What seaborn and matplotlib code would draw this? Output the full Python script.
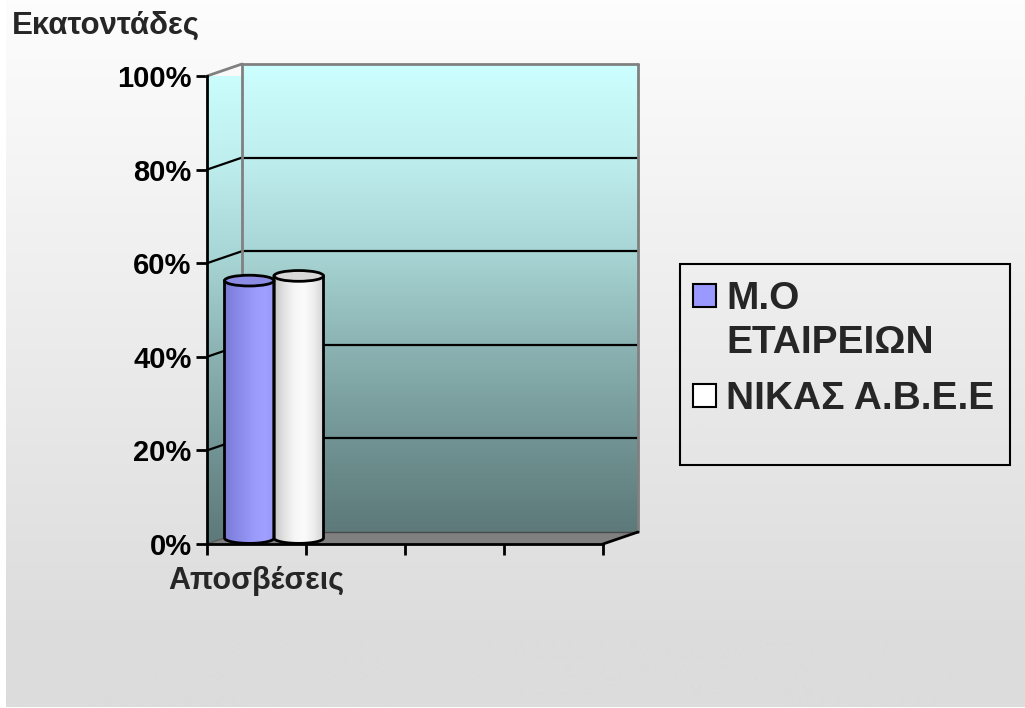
import numpy as np
import pandas as pd
import matplotlib
matplotlib.use("Agg")
import matplotlib.pyplot as plt
import seaborn as sns
from matplotlib.patches import Polygon, Rectangle, PathPatch, Ellipse
from matplotlib.path import Path
from matplotlib.colors import LinearSegmentedColormap

# ---- data -------------------------------------------------------------
categories = ["Αποσβέσεις"]
slot_labels = ["Αποσβέσεις", "", "", ""]
series = ["Μ.Ο\nΕΤΑΙΡΕΙΩΝ", "ΝΙΚΑΣ Α.Β.Ε.Ε"]
values_mo = [55]
values_nikas = [56]
y_ticks = [0, 20, 40, 60, 80, 100]
y_tick_labels = ["0%", "20%", "40%", "60%", "80%", "100%"]
title = "Εκατοντάδες"

series_colors = ["#9999ff", "#ffffff"]

# ---- style --------------------------------------------------------------
sns.set_style("white")
plt.rcParams["font.family"] = ["Liberation Sans", "DejaVu Sans"]
plt.rcParams["font.weight"] = "bold"

W, H, DPI = 1025, 708, 100
fig = plt.figure(figsize=(W / DPI, H / DPI), dpi=DPI, facecolor="white")

# soft grey page gradient
bg = fig.add_axes([6 / W, 1 / H, 1 - 6 / W, 1 - 1 / H], zorder=-10)
bg.axis("off")
rows = np.clip(np.arange(H) / 640.0, 0, 1)[:, None]
page_cmap = LinearSegmentedColormap.from_list("page", ["#fdfdfd", "#dcdcdc"])
bg.imshow(rows, cmap=page_cmap, aspect="auto", extent=[0, 1, 0, 1],
          origin="upper", vmin=0, vmax=1, interpolation="bilinear")

# ---- main axes ---------------------------------------------------------
n_slots = len(slot_labels)
ax = fig.add_axes([207 / W, (H - 544) / H, 396 / W, 468 / H])
ax.patch.set_visible(False)

df = pd.DataFrame({
    "category": categories * 2,
    "series": [series[0]] * len(categories) + [series[1]] * len(categories),
    "value": values_mo + values_nikas,
})
sns.barplot(data=df, x="category", y="value", hue="series", hue_order=series,
            palette=series_colors, width=1.0, errorbar=None, legend=False,
            ax=ax, zorder=2, linewidth=0)
bars = list(ax.patches)

x_lo, x_hi = -0.5, n_slots - 0.5
ax.set_xlim(x_lo, x_hi)
ax.set_ylim(0, 100)
ax.set_autoscale_on(False)

# depth of the 3-D box, in data units
DX = 35.0 / (396.0 / n_slots)
DY = 12.0 / (468.0 / 100.0)

wall_cmap = LinearSegmentedColormap.from_list(
    "wall", [(0.0, "#5d7979"), (0.2, "#729494"), (0.4, "#8cb3b3"),
             (0.6, "#a8d5d5"), (0.8, "#bfeeee"), (1.0, "#ccffff")])
grad_v = np.linspace(0, 1, 256)[:, None]

# back wall
ax.imshow(grad_v, cmap=wall_cmap, origin="lower", aspect="auto",
          extent=[x_lo + DX, x_hi + DX, DY, 100 + DY], zorder=0.5,
          clip_on=False, interpolation="bilinear")
# side wall
side = Polygon([(x_lo, 0), (x_lo, 100), (x_lo + DX, 100 + DY), (x_lo + DX, DY)],
               closed=True, transform=ax.transData, facecolor="none",
               edgecolor="none")
ax.add_patch(side)
im_side = ax.imshow(grad_v, cmap=wall_cmap, origin="lower", aspect="auto",
                    extent=[x_lo, x_lo + DX, 0, 100 + DY], zorder=0.5,
                    interpolation="bilinear")
im_side.set_clip_path(side)
# floor
ax.add_patch(Polygon([(x_lo, 0), (x_hi, 0), (x_hi + DX, DY), (x_lo + DX, DY)],
                     closed=True, facecolor="#808080", edgecolor="none",
                     zorder=0.6, clip_on=False))
ax.plot([x_lo + DX, x_hi + DX], [DY, DY], color="#4a4a4a", lw=1, zorder=0.7,
        clip_on=False)
ax.plot([x_lo, x_lo + DX], [0, DY], color="#5a5a5a", lw=1, zorder=0.7,
        clip_on=False)

# gridlines on back and side walls
for v in y_ticks[1:-1]:
    ax.plot([x_lo + DX, x_hi + DX], [v + DY, v + DY], color="black", lw=1.6,
            zorder=0.8, clip_on=False, solid_capstyle="butt")
    ax.plot([x_lo, x_lo + DX], [v, v + DY], color="black", lw=1.6,
            zorder=0.8, clip_on=False)

# wall borders
edge = dict(color="#808080", lw=2, zorder=0.9, clip_on=False)
ax.plot([x_lo + DX, x_hi + DX], [100 + DY, 100 + DY], **edge)
ax.plot([x_hi + DX, x_hi + DX], [DY, 100 + DY], **edge)
ax.plot([x_lo + DX, x_lo + DX], [DY, 100 + DY], **edge)
ax.plot([x_lo, x_lo + DX], [100, 100 + DY], **edge)
ax.plot([x_hi, x_hi + DX], [0, DY], color="black", lw=2, zorder=3,
        clip_on=False)

# ---- cylinders ---------------------------------------------------------
body_cmaps = [
    LinearSegmentedColormap.from_list(
        "c0", ["#7a7ad6", "#8686e4", "#9090f0", "#9b9bfc", "#a0a0ff", "#9696f6"]),
    LinearSegmentedColormap.from_list(
        "c1", ["#c4c4c4", "#e2e2e2", "#f6f6f6", "#fbfbfb", "#eeeeee", "#d2d2d2"]),
]
top_colors = ["#8c8ce4", "#d8d8d8"]
EH = 2.3           # ellipse height in data units
grad_h = np.linspace(0, 1, 256)[None, :]

for i, p in enumerate(bars):
    x0, w, h = p.get_x(), p.get_width(), p.get_height()
    x0 = x0 + DX / 2
    yb = DY / 2
    p.set_x(x0)
    p.set_y(yb)
    p.set_zorder(2)
    x1 = x0 + w
    cx, a, b = x0 + w / 2, w / 2, EH / 2
    yt = yb + h
    t = np.linspace(np.pi, 2 * np.pi, 60)
    arc = np.column_stack([cx + a * np.cos(t), yb + b * np.sin(t)])
    verts = np.vstack([[x0, yt], [x0, yb], arc, [x1, yb], [x1, yt], [x0, yt]])
    body = PathPatch(Path(verts, closed=True), facecolor="none",
                     edgecolor="none", transform=ax.transData)
    ax.add_patch(body)
    im = ax.imshow(grad_h, cmap=body_cmaps[i], aspect="auto",
                   extent=[x0, x1, yb - b, yt], zorder=2.1,
                   interpolation="bilinear")
    im.set_clip_path(body)
    outline = np.vstack([[x0, yt], [x0, yb], arc, [x1, yb], [x1, yt]])
    ax.plot(outline[:, 0], outline[:, 1], color="black", lw=2, zorder=2.4,
            clip_on=False, solid_joinstyle="round")
    ax.add_patch(Ellipse((cx, yt), 2 * a, EH, facecolor=top_colors[i],
                         edgecolor="black", lw=2, zorder=2.5, clip_on=False))

# ---- axes decoration ---------------------------------------------------
for s in ["top", "right"]:
    ax.spines[s].set_visible(False)
for s in ["left", "bottom"]:
    ax.spines[s].set_linewidth(2)
    ax.spines[s].set_color("black")
    ax.spines[s].set_zorder(3)

ax.set_yticks(y_ticks)
ax.set_yticklabels(y_tick_labels, fontsize=21, fontweight="bold")
ax.tick_params(axis="y", length=8, width=2, direction="out", pad=3,
               colors="black", left=True)

ax.set_xticks(np.arange(n_slots + 1) - 0.5)
ax.set_xticklabels([""] * (n_slots + 1))
ax.set_xticks(np.arange(n_slots), minor=True)
ax.set_xticklabels(slot_labels, minor=True, fontsize=22, fontweight="bold")
ax.tick_params(axis="x", which="major", length=8, width=2, direction="out",
               colors="black", bottom=True)
ax.tick_params(axis="x", which="minor", length=0, pad=16)
ax.set_xlabel("")
ax.set_ylabel("")
ax.grid(False)

fig.text(12 / W, 1 - 26 / H, title, fontsize=22.5, fontweight="bold",
         ha="left", va="center")

# ---- legend ------------------------------------------------------------
fig.add_artist(Rectangle((680 / W, 1 - 465 / H), 330 / W, 201 / H,
                         transform=fig.transFigure, fill=False,
                         edgecolor="black", lw=1.5))
legend_rows = [284, 384]
for name, col, ytop in zip(series, series_colors, legend_rows):
    fig.add_artist(Rectangle((693 / W, 1 - (ytop + 23) / H), 23 / W, 23 / H,
                             transform=fig.transFigure, facecolor=col,
                             edgecolor="black", lw=1.5))
    fig.text(726 / W, 1 - (ytop - 3) / H, name, fontsize=28,
             fontweight="bold", ha="left", va="top", linespacing=1.27)

fig.savefig("out.png", dpi=DPI, facecolor=fig.get_facecolor())
